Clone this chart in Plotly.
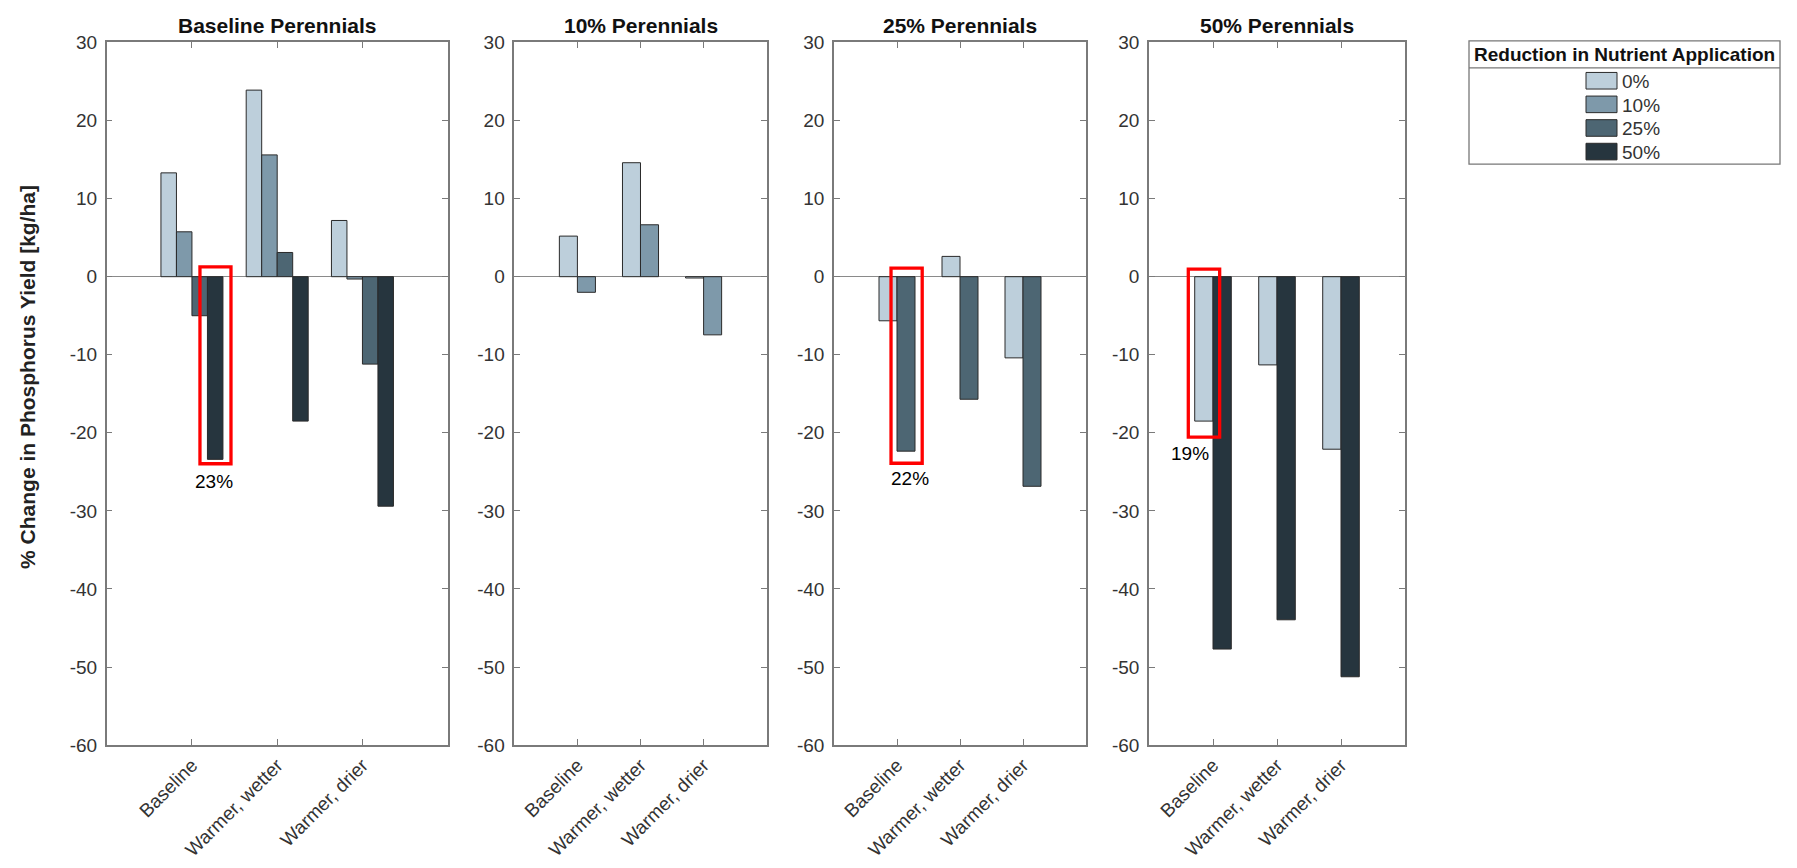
import plotly.graph_objects as go

# ---------------- data ----------------
categories = ["Baseline", "Warmer, wetter", "Warmer, drier"]
reductions = ["0%", "10%", "25%", "50%"]
colors = ["#BDCFDB", "#7E99AA", "#4D6673", "#26353E"]
panel_titles = ["Baseline Perennials", "10% Perennials", "25% Perennials", "50% Perennials"]

base_0 = [13.3, 23.9, 7.2]
base_10 = [5.75, 15.6, -0.3]
base_25 = [-5.0, 3.1, -11.2]
base_50 = [-23.4, -18.5, -29.4]

p10_0 = [5.2, 14.6, -0.17]
p10_10 = [-2.0, 6.65, -7.45]

p25_0 = [-5.65, 2.6, -10.4]
p25_25 = [-22.35, -15.7, -26.85]

p50_0 = [-18.5, -11.3, -22.1]
p50_50 = [-47.7, -43.95, -51.25]

# which reduction series appear in each panel
panel_series = [
    [(0, base_0), (1, base_10), (2, base_25), (3, base_50)],
    [(0, p10_0), (1, p10_10)],
    [(0, p25_0), (2, p25_25)],
    [(0, p50_0), (3, p50_50)],
]

highlight_labels = ["23%", "22%", "19%"]
y_ticks = [-60, -50, -40, -30, -20, -10, 0, 10, 20, 30]
y_tick_labels = [str(v) for v in y_ticks]

# ---------------- layout helpers ----------------
W, H = 1797, 868
def fx(px):
    return px / W
def fy(py):
    return 1 - py / H

FONT = "Liberation Sans, Arial, Helvetica, sans-serif"
AX = "#7a7a7a"
TXT = "#333333"

panel_px = [(106.7, 447.7), (514.3, 766.7), (834.0, 1086.0), (1149.0, 1405.0)]
top_px, bot_px = 33.3, 753.3

fig = go.Figure()
layout = dict(
    width=W, height=H, margin=dict(l=0, r=0, t=0, b=0),
    paper_bgcolor="white", plot_bgcolor="white",
    barmode="overlay", showlegend=False,
    font=dict(family=FONT, size=19, color=TXT),
)

annotations = []
shapes = []

for k, series in enumerate(panel_series):
    sfx = "" if k == 0 else str(k + 1)
    n = len(series)
    gw = min(0.8, n / (n + 1.5))
    bw = gw / n
    for j, (si, vals) in enumerate(series):
        fig.add_trace(go.Bar(
            x=[1, 2, 3], y=vals, width=bw, offset=-gw / 2 + j * bw,
            marker=dict(color=colors[si], line=dict(color="#2a2a2a", width=1)),
            name=reductions[si], xaxis="x" + sfx, yaxis="y" + sfx,
        ))
    x0, x1 = panel_px[k]
    layout["xaxis" + sfx] = dict(
        domain=[fx(x0), fx(x1)], range=[0, 4], anchor="y" + sfx,
        tickvals=[1, 2, 3], ticktext=categories, tickangle=-45,
        ticks="inside", ticklen=6, tickcolor=AX, tickwidth=1.2,
        showline=True, linecolor=AX, linewidth=1.5, mirror="ticks",
        showgrid=False, zeroline=False, fixedrange=True,
        tickfont=dict(family=FONT, size=19, color=TXT),
    )
    layout["yaxis" + sfx] = dict(
        domain=[fy(bot_px), fy(top_px)], range=[-60, 30], anchor="x" + sfx,
        tickvals=y_ticks, ticktext=y_tick_labels,
        ticks="inside", ticklen=6, tickcolor=AX, tickwidth=1.2,
        showline=True, linecolor=AX, linewidth=1.5, mirror="ticks",
        showgrid=False, zeroline=True, zerolinecolor="#8a8a8a", zerolinewidth=1.2,
        fixedrange=True, ticklabelstandoff=4,
        tickfont=dict(family=FONT, size=19, color=TXT),
    )
    annotations.append(dict(
        x=fx((x0 + x1) / 2), y=fy(15.5), xref="paper", yref="paper",
        text="<b>" + panel_titles[k] + "</b>", showarrow=False,
        xanchor="center", yanchor="middle",
        font=dict(family=FONT, size=21, color="#111111"),
    ))

# red highlight boxes and their labels (data coordinates of each panel)
boxes = [
    ("x", "y", 1.094, 1.458, -23.96, 1.25, 1.259, -26.3),
    ("x3", "y3", 0.905, 1.40, -23.9, 1.1, 1.20, -25.9),
    ("x4", "y4", 0.614, 1.104, -20.55, 0.98, 0.645, -22.6),
]
for (xr, yr, bx0, bx1, by0, by1, tx, ty), lab in zip(boxes, highlight_labels):
    shapes.append(dict(type="rect", xref=xr, yref=yr, x0=bx0, x1=bx1, y0=by0, y1=by1,
                       line=dict(color="#FF0000", width=3.3), layer="above"))
    annotations.append(dict(x=tx, y=ty, xref=xr, yref=yr, text=lab, showarrow=False,
                            xanchor="center", yanchor="middle",
                            font=dict(family=FONT, size=19, color="#000000")))

# y axis label
annotations.append(dict(
    x=fx(28), y=fy(376), xref="paper", yref="paper",
    text="<b>% Change in Phosphorus Yield [kg/ha]</b>", textangle=-90, showarrow=False,
    xanchor="center", yanchor="middle", font=dict(family=FONT, size=21, color="#222222"),
))

# legend box (drawn)
lx0, lx1, ly0, ly1, lsep = 1469, 1780, 31.7, 158, 59.3
shapes.append(dict(type="rect", xref="paper", yref="paper", x0=fx(lx0), x1=fx(lx1),
                   y0=fy(ly1), y1=fy(ly0), line=dict(color="#777777", width=1.3),
                   fillcolor="white", layer="above"))
shapes.append(dict(type="line", xref="paper", yref="paper", x0=fx(lx0), x1=fx(lx1),
                   y0=fy(lsep), y1=fy(lsep), line=dict(color="#777777", width=1.3)))
annotations.append(dict(x=fx((lx0 + lx1) / 2), y=fy(45.5), xref="paper", yref="paper",
                        text="<b>Reduction in Nutrient Application</b>", showarrow=False,
                        xanchor="center", yanchor="middle",
                        font=dict(family=FONT, size=19, color="#111111")))
for i, (lab, col) in enumerate(zip(reductions, colors)):
    cy = 72.5 + i * 24.2
    shapes.append(dict(type="rect", xref="paper", yref="paper", x0=fx(1586), x1=fx(1617),
                       y0=fy(cy + 8.5), y1=fy(cy - 8.5), fillcolor=col,
                       line=dict(color="#2a2a2a", width=1), layer="above"))
    annotations.append(dict(x=fx(1620), y=fy(cy + 1), xref="paper", yref="paper", text=lab,
                            showarrow=False, xanchor="left", yanchor="middle",
                            font=dict(family=FONT, size=19, color=TXT)))

layout["annotations"] = annotations
layout["shapes"] = shapes
fig.update_layout(**layout)

fig.write_html("out.html", config={"displayModeBar": False},
               post_script="document.body.style.margin='0';document.body.style.overflow='hidden';")
